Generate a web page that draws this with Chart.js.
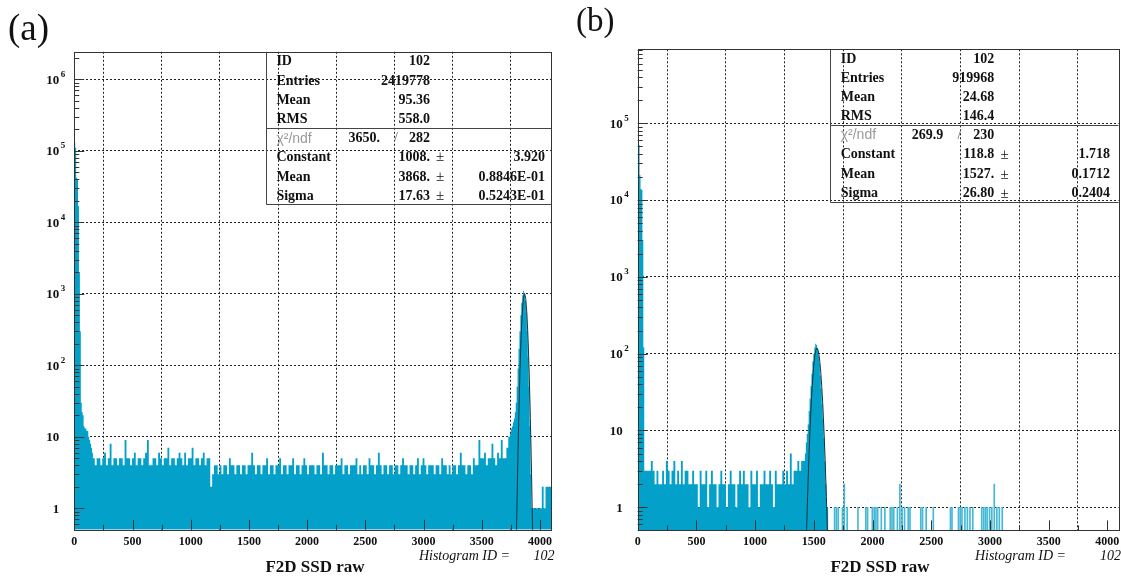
<!DOCTYPE html>
<html lang="en">
<head>
<meta charset="UTF-8">
<title>F2D SSD raw</title>
<script src="https://cdn.jsdelivr.net/npm/chart.js"></script>
<style>
  html, body { margin: 0; padding: 0; background: #fff; }
  body { width: 1121px; height: 577px; position: relative; overflow: hidden; }
  canvas { position: absolute; top: 0; }
  #chartA { left: 0; }
  #chartB { left: 560px; }
</style>
</head>
<body>
<canvas id="chartA" width="560" height="577"></canvas>
<canvas id="chartB" width="561" height="577"></canvas>
<script>
// ---- shared axis data ----
const xTicks = [0, 500, 1000, 1500, 2000, 2500, 3000, 3500, 4000];
const xMax = 4096;

// ---- panel (a) ----
const aYMax = 2419778;
const aDecades = [1, 10, 100, 1e3, 1e4, 1e5, 1e6];
const aPedStart = 0, aPedBin = 8;
const aPedestal = [125000, 130000, 110000, 42000, 40000, 17000, 2000, 300, 30, 22, 20, 14, 13, 13, 12, 12, 10, 9, 8, 7];
const aNoiseStart = 160, aNoiseBin = 16;
const aNoise = [
  6,5,4,5,5,4,5,6,4,5,8,4,5,5,4,5,
  5,4,9,5,5,4,5,6,4,5,5,4,5,6,9,4,
  4,5,5,4,6,5,4,5,5,7,4,5,5,4,5,6,
  5,4,6,4,5,5,7,4,5,5,4,5,6,4,5,5,
  2,3,4,4,3,4,3,4,4,3,5,4,4,3,4,4,
  3,4,4,3,4,4,6,4,3,4,4,3,4,4,5,3,
  4,4,3,4,4,5,3,4,4,3,4,4,5,3,4,4,
  3,4,5,4,3,4,4,4,3,4,4,3,6,4,4,3,
  4,4,3,4,4,4,5,3,4,4,3,4,4,4,5,3,
  4,3,4,4,3,5,4,4,3,4,6,4,3,4,4,3,
  4,4,3,4,4,3,4,5,4,4,3,4,4,3,4,5,
  3,4,5,4,3,4,4,4,3,4,4,3,5,4,4,3,
  4,3,4,4,3,4,6,4,4,3,4,4,3,5,4,4,
  9,5,5,6,4,5,5,8,5,4,6,5,9,5,5,7
];
const aPeakStart = 3744, aPeakBin = 8;
const aPeak = [10, 11, 13, 14, 16, 18, 22, 30, 50, 90, 170, 300, 500, 750, 950, 1100, 1000, 800, 550, 300, 130, 50, 14, 3];
const aTailStart = 3936, aTailBin = 16;
const aTail = [1, 1, 1, 1, 1, 1, 2, 1, 2, 2];
const aFitX = [3798, 3808, 3818, 3828, 3838, 3848, 3858, 3868, 3878, 3888, 3898, 3908, 3918, 3928, 3938];
const aFitY = [0.4, 3.1, 18, 77, 237, 530, 858, 1008, 858, 530, 237, 77, 18, 3.1, 0.4];
const aStats = ['102', '2419778', '95.36', '558.0'];
const aChi = ['3650.', '282'];
const aFitVals = ['1008.', '3868.', '17.63'];
const aFitErrs = ['3.920', '0.8846E-01', '0.5243E-01'];

// ---- panel (b) ----
const bYMax = 919968;
const bDecades = [1, 10, 100, 1e3, 1e4, 1e5];
const bPedStart = 0, bPedBin = 8;
const bPedestal = [57000, 57000, 52000, 21000, 14000, 13500, 3000, 120];
const bNoiseStart = 64, bNoiseBin = 16;
const bNoise = [
  3,3,3,3,4,3,2,3,2,2,3,2,4,3,2,3,
  4,2,3,2,4,2,3,3,2,2,3,2,2,1,3,2,
  2,3,1,2,3,2,2,1,2,3,2,2,1,2,3,2,
  2,1,2,3,2,3,2,2,1,3,2,2,3,1,2,2,
  3,2,2,3,2,1,3,2,2,2,3,2,3,2,5,2,
  3,3,4,3,4
];
const bPeakStart = 1424, bPeakBin = 8;
const bPeak = [4, 5, 7, 9, 12, 18, 26, 38, 55, 80, 100, 120, 135, 130, 115, 95, 75, 52, 35, 22, 14, 8, 4, 2, 1];
const bHitX = [1677, 1692, 1708, 1744, 1760, 1784, 1876, 1943, 1958, 1998, 2014, 2029, 2044, 2075, 2105,
  2151, 2166, 2181, 2212, 2233, 2252, 2273, 2304, 2319, 2411, 2426, 2457, 2518, 2664, 2677,
  2732, 2747, 2762, 2787, 2808, 2830, 2854, 2930, 2946, 2961, 2976, 2997, 3016, 3037, 3059, 3080, 3105];
const bHitY = [1, 1, 1, 1, 2, 1, 1, 1, 1, 1, 1, 1, 1, 1, 1,
  1, 1, 1, 1, 2, 1, 1, 1, 1, 1, 1, 1, 1, 1, 1,
  1, 1, 1, 1, 1, 1, 1, 1, 1, 1, 1, 1, 1, 2, 1, 1, 1];
const bFitX = [1437, 1447, 1457, 1467, 1477, 1487, 1497, 1507, 1517, 1527, 1537, 1547, 1557, 1567, 1577, 1587, 1597, 1607, 1617];
const bFitY = [0.42, 1.38, 3.92, 9.7, 20.9, 39, 63.5, 90, 110.8, 118.8, 110.8, 90, 63.5, 39, 20.9, 9.7, 3.92, 1.38, 0.42];
const bStats = ['102', '919968', '24.68', '146.4'];
const bChi = ['269.9', '230'];
const bFitVals = ['118.8', '1527.', '26.80'];
const bFitErrs = ['1.718', '0.1712', '0.2404'];

const statNames = ['ID', 'Entries', 'Mean', 'RMS'];
const fitNames = ['Constant', 'Mean', 'Sigma'];

// ---- styling ----
const CYAN = '#03a1c9';
const CYAN_LIGHT = '#45b8d8';
const FIT = '#143540';
const SERIF = '"Liberation Serif", "DejaVu Serif", serif';

// histogram bins -> stepped points (low edge of each bin)
function histPoints(segments, end) {
  const pts = [];
  segments.forEach(([start, bin, vals]) => {
    vals.forEach((v, i) => pts.push({ x: start + i * bin, y: v }));
  });
  pts.push({ x: end, y: pts[pts.length - 1].y });
  return pts;
}

function decor(L, P) {
  return {
    id: 'decor',
    afterDraw(chart) {
      const { ctx, chartArea: ca, scales: { x, y } } = chart;
      ctx.save();

      // inside tick marks (log minor ticks on y, 250-step on x)
      ctx.strokeStyle = '#333';
      ctx.lineWidth = 1;
      ctx.beginPath();
      for (let e = -1; e <= 7; e++) {
        for (let m = 1; m <= 9; m++) {
          const v = m * Math.pow(10, e);
          if (v < y.min || v > y.max) continue;
          const py = Math.round(y.getPixelForValue(v)) + 0.5;
          ctx.moveTo(ca.left, py);
          ctx.lineTo(ca.left + (m === 1 ? 10 : 5), py);
        }
      }
      for (let v = 0; v <= 4000; v += 250) {
        const px = Math.round(x.getPixelForValue(v)) + 0.5;
        ctx.moveTo(px, ca.bottom);
        ctx.lineTo(px, ca.bottom - (v % 500 ? 5 : 10));
      }
      ctx.stroke();

      // frame
      ctx.strokeStyle = '#333';
      ctx.strokeRect(Math.round(ca.left) + 0.5, Math.round(ca.top) + 0.5,
        Math.round(ca.right) - Math.round(ca.left), Math.round(ca.bottom) - Math.round(ca.top));

      ctx.fillStyle = '#111';

      // y labels
      P.decades.forEach(v => {
        const py = y.getPixelForValue(v);
        const ex = Math.round(Math.log10(v));
        const rx = ca.left - 15;
        ctx.font = 'bold 13px ' + SERIF;
        ctx.textAlign = 'right';
        ctx.textBaseline = 'middle';
        ctx.fillText(ex === 0 ? '1' : '10', rx, py + 1);
        if (ex > 1) {
          ctx.font = 'bold 9px ' + SERIF;
          ctx.textAlign = 'left';
          ctx.fillText(String(ex), rx + 1.5, py - 5);
        }
      });

      // x labels
      ctx.font = 'bold 12px ' + SERIF;
      ctx.textAlign = 'center';
      ctx.textBaseline = 'middle';
      xTicks.forEach(v => ctx.fillText(String(v), x.getPixelForValue(v), 541.5));

      // stats box
      const B = L.box;
      ctx.strokeStyle = '#444';
      ctx.beginPath();
      ctx.moveTo(B.left + 0.5, ca.top);
      ctx.lineTo(B.left + 0.5, B.bottom + 0.5);
      ctx.lineTo(ca.right, B.bottom + 0.5);
      ctx.moveTo(B.left, B.sep + 0.5);
      ctx.lineTo(ca.right, B.sep + 0.5);
      ctx.stroke();

      ctx.font = 'bold 14px ' + SERIF;
      ctx.textBaseline = 'middle';
      statNames.forEach((n, i) => {
        ctx.textAlign = 'left';
        ctx.fillText(n, B.lx, B.rows[i]);
        ctx.textAlign = 'right';
        ctx.fillText(P.stats[i], B.vr, B.rows[i]);
      });
      // chi2 row
      ctx.fillStyle = '#9a9a9a';
      ctx.font = '14px "Liberation Sans", sans-serif';
      ctx.textAlign = 'left';
      ctx.fillText('\u03c7\u00b2/ndf', B.lx, B.rows[4]);
      ctx.fillStyle = '#111';
      ctx.font = 'bold 14px ' + SERIF;
      ctx.textAlign = 'right';
      ctx.fillText(P.chi[0], B.chiR, B.rows[4]);
      ctx.fillText(P.chi[1], B.vr, B.rows[4]);
      ctx.fillStyle = '#666';
      ctx.font = '14px ' + SERIF;
      ctx.textAlign = 'center';
      ctx.fillText('/', B.slash, B.rows[4]);
      ctx.fillStyle = '#111';
      fitNames.forEach((n, i) => {
        const ry = B.rows[5 + i];
        ctx.font = 'bold 14px ' + SERIF;
        ctx.textAlign = 'left';
        ctx.fillText(n, B.lx, ry);
        ctx.textAlign = 'right';
        ctx.fillText(P.fitVals[i], B.vr, ry);
        ctx.fillText(P.fitErrs[i], B.er, ry);
        ctx.font = '15px ' + SERIF;
        ctx.textAlign = 'center';
        ctx.fillText('\u00b1', B.pm, ry);
      });

      // axis title and histogram id
      ctx.font = 'bold 17px ' + SERIF;
      ctx.textAlign = 'center';
      ctx.fillText('F2D SSD raw', L.titleX, 568);
      ctx.font = 'italic 14px ' + SERIF;
      ctx.textAlign = 'right';
      ctx.fillText('Histogram ID =', L.hidR1, 556);
      ctx.fillText('102', L.hidR2, 556);

      // panel label
      ctx.font = L.label.size + 'px ' + SERIF;
      ctx.textAlign = 'left';
      ctx.textBaseline = 'alphabetic';
      ctx.fillText(L.label.text, L.label.x, L.label.y);

      ctx.restore();
    }
  };
}

function makeChart(id, P, L) {
  return new Chart(document.getElementById(id), {
    type: 'line',
    data: {
      datasets: [
        { type: 'line', data: P.fit, borderColor: FIT, borderWidth: 1, pointRadius: 0, fill: false, tension: 0, order: 0 },
        { type: 'bar', data: P.hits, backgroundColor: CYAN_LIGHT, barThickness: 1, order: 1 },
        { type: 'line', data: P.hist, stepped: 'after', fill: 'start', backgroundColor: CYAN,
          borderWidth: 0, borderColor: 'rgba(0,0,0,0)', pointRadius: 0, order: 2 }
      ]
    },
    options: {
      responsive: false,
      animation: false,
      events: [],
      layout: { padding: L.pad },
      plugins: { legend: { display: false }, tooltip: { enabled: false } },
      scales: {
        x: {
          type: 'linear', min: 0, max: xMax, offset: false, z: 1,
          afterBuildTicks: s => { s.ticks = xTicks.filter(v => v > 0).map(v => ({ value: v })); },
          afterFit: s => { s.height = 0; },
          ticks: { display: false },
          grid: { color: '#222', lineWidth: 1, drawTicks: false },
          border: { display: false, dash: [2, 2] }
        },
        y: {
          type: 'logarithmic', min: 0.5, max: P.yMax, z: 1,
          afterBuildTicks: s => { s.ticks = P.decades.map(v => ({ value: v })); },
          afterFit: s => { s.width = 0; },
          ticks: { display: false },
          grid: { color: '#222', lineWidth: 1, drawTicks: false },
          border: { display: false, dash: [2, 2] }
        }
      }
    },
    plugins: [decor(L, P)]
  });
}

const panelA = {
  yMax: aYMax, decades: aDecades,
  hist: histPoints([[aPedStart, aPedBin, aPedestal], [aNoiseStart, aNoiseBin, aNoise],
    [aPeakStart, aPeakBin, aPeak], [aTailStart, aTailBin, aTail]], xMax),
  hits: [],
  fit: aFitX.map((x, i) => ({ x, y: aFitY[i] })),
  stats: aStats, chi: aChi, fitVals: aFitVals, fitErrs: aFitErrs
};
const panelB = {
  yMax: bYMax, decades: bDecades,
  hist: histPoints([[bPedStart, bPedBin, bPedestal], [bNoiseStart, bNoiseBin, bNoise],
    [bPeakStart, bPeakBin, bPeak]], 1624),
  hits: bHitX.map((x, i) => ({ x, y: bHitY[i] })),
  fit: bFitX.map((x, i) => ({ x, y: bFitY[i] })),
  stats: bStats, chi: bChi, fitVals: bFitVals, fitErrs: bFitErrs
};

const layoutA = {
  pad: { left: 74.3, top: 51.8, right: 8.9, bottom: 47.2 },
  box: { left: 266, sep: 128, bottom: 204, lx: 276.4, vr: 430, pm: 440, er: 545, chiR: 380, slash: 396,
    rows: [61.7, 81, 100.7, 119.3, 138.7, 157.3, 177, 196] },
  titleX: 315, hidR1: 510, hidR2: 554.5,
  label: { text: '(a)', x: 8, y: 40, size: 37 }
};
const layoutB = {
  pad: { left: 77.7, top: 49.3, right: 2.4, bottom: 46.6 },
  box: { left: 270, sep: 125, bottom: 202, lx: 280.7, vr: 434.3, pm: 444.5, er: 550, chiR: 383.3, slash: 399.5,
    rows: [59, 78, 97.7, 116.7, 135.3, 154.7, 174.7, 193.7] },
  titleX: 320, hidR1: 506, hidR2: 561,
  label: { text: '(b)', x: 16, y: 31, size: 33 }
};

makeChart('chartA', panelA, layoutA);
makeChart('chartB', panelB, layoutB);
</script>
</body>
</html>
